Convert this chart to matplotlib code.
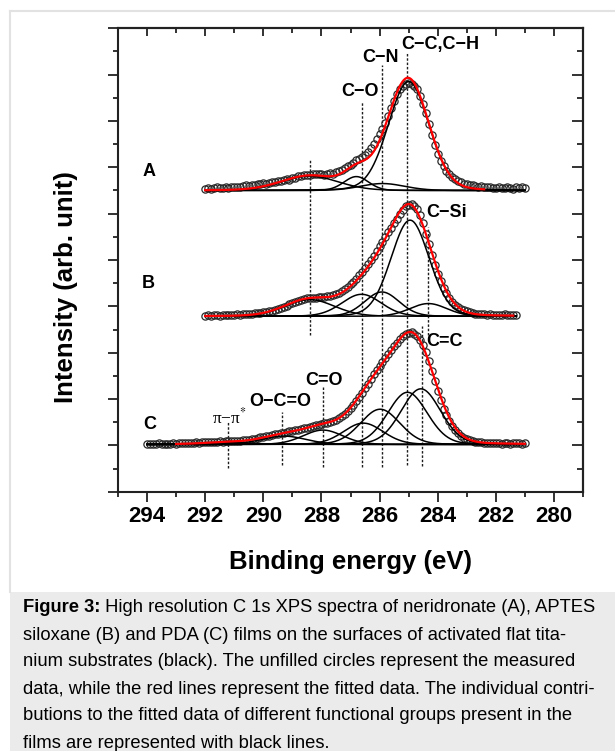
import numpy as np
import matplotlib
matplotlib.use('Agg')
import matplotlib.pyplot as plt
from matplotlib.patches import Rectangle
from matplotlib.lines import Line2D

plt.rcParams['font.family'] = ['Liberation Sans', 'DejaVu Sans']
plt.rcParams['mathtext.fontset'] = 'stix'

# ---------------- data ----------------
# vertical offsets of the three stacked spectra (arb. units)
offset_A, offset_B, offset_C = 13.0, 7.57, 2.04

# measured binding-energy range (eV, start, end) and step of the measurement
A_range = (292.0, 281.0)
B_range = (292.0, 281.3)
C_range = (294.0, 281.0)
step = 0.1
# fitted-envelope range
A_fit_range = (292.0, 282.4)
B_fit_range = (292.0, 281.4)
C_fit_range = (293.0, 281.0)

# measured intensities (open circles), from high to low binding energy
A_meas = [0.08, 0.12, 0.06, 0.10, 0.13, 0.09, 0.12, 0.15, 0.11, 0.14,
          0.13, 0.17, 0.14, 0.19, 0.22, 0.20, 0.24, 0.22, 0.27, 0.29,
          0.31, 0.28, 0.34, 0.38, 0.36, 0.40, 0.43, 0.45, 0.49, 0.47,
          0.52, 0.56, 0.61, 0.64, 0.66, 0.69, 0.67, 0.70, 0.72, 0.70,
          0.71, 0.69, 0.72, 0.74, 0.73, 0.78, 0.84, 0.90, 0.97, 1.05,
          1.12, 1.20, 1.30, 1.36, 1.45, 1.55, 1.68, 1.85, 2.02, 2.22,
          2.42, 2.65, 2.92, 3.22, 3.55, 3.88, 4.15, 4.38, 4.52, 4.60,
          4.62, 4.60, 4.52, 4.36, 4.08, 3.74, 3.34, 2.86, 2.38, 1.95,
          1.58, 1.28, 1.05, 0.84, 0.70, 0.58, 0.48, 0.42, 0.36, 0.30,
          0.27, 0.24, 0.22, 0.20, 0.16, 0.18, 0.15, 0.13, 0.16, 0.12,
          0.10, 0.14, 0.11, 0.09, 0.13, 0.12, 0.08, 0.14, 0.10, 0.13,
          0.12]
B_meas = [0.03, 0.05, 0.02, 0.06, 0.04, 0.03, 0.06, 0.05, 0.07, 0.05,
          0.06, 0.08, 0.07, 0.09, 0.10, 0.09, 0.12, 0.13, 0.15, 0.16,
          0.18, 0.20, 0.22, 0.25, 0.28, 0.32, 0.36, 0.41, 0.46, 0.51,
          0.56, 0.61, 0.66, 0.70, 0.74, 0.77, 0.79, 0.80, 0.81, 0.82,
          0.83, 0.84, 0.86, 0.88, 0.91, 0.95, 1.01, 1.08, 1.17, 1.27,
          1.38, 1.50, 1.63, 1.77, 1.92, 2.08, 2.25, 2.43, 2.62, 2.82,
          3.02, 3.22, 3.42, 3.62, 3.82, 4.02, 4.22, 4.42, 4.60, 4.74,
          4.82, 4.84, 4.78, 4.62, 4.36, 4.02, 3.55, 3.10, 2.64, 2.22,
          1.84, 1.52, 1.24, 1.00, 0.80, 0.63, 0.50, 0.40, 0.32, 0.26,
          0.21, 0.17, 0.14, 0.12, 0.10, 0.09, 0.08, 0.07, 0.08, 0.06,
          0.07, 0.05, 0.06, 0.08, 0.05, 0.06, 0.07, 0.05]
C_meas = [0.03, 0.01, 0.04, 0.02, 0.05, 0.03, 0.02, 0.04, 0.03, 0.05,
          0.04, 0.06, 0.05, 0.07, 0.06, 0.08, 0.07, 0.09, 0.08, 0.10,
          0.09, 0.11, 0.10, 0.12, 0.11, 0.13, 0.12, 0.14, 0.13, 0.15,
          0.14, 0.16, 0.15, 0.17, 0.19, 0.21, 0.23, 0.25, 0.28, 0.30,
          0.32, 0.35, 0.38, 0.41, 0.43, 0.46, 0.48, 0.51, 0.53, 0.56,
          0.58, 0.61, 0.63, 0.66, 0.69, 0.72, 0.75, 0.78, 0.82, 0.85,
          0.88, 0.91, 0.94, 0.98, 1.02, 1.07, 1.13, 1.21, 1.31, 1.43,
          1.56, 1.71, 1.88, 2.06, 2.24, 2.43, 2.62, 2.82, 3.02, 3.22,
          3.40, 3.57, 3.74, 3.91, 4.07, 4.23, 4.39, 4.54, 4.66, 4.76,
          4.82, 4.84, 4.78, 4.66, 4.50, 4.28, 3.98, 3.60, 3.18, 2.74,
          2.30, 1.90, 1.55, 1.25, 1.00, 0.79, 0.62, 0.48, 0.37, 0.29,
          0.23, 0.18, 0.15, 0.12, 0.10, 0.09, 0.08, 0.07, 0.06, 0.06,
          0.05, 0.06, 0.04, 0.05, 0.06, 0.04, 0.05, 0.06, 0.05, 0.04,
          0.05]

# fitted components: centre (eV), height, FWHM (eV)
A_center = [285.00, 285.90, 286.80, 288.40]
A_height = [4.70, 0.30, 0.60, 0.62]
A_fwhm = [1.65, 1.80, 1.00, 2.30]

B_center = [284.95, 285.92, 286.62, 288.40, 284.32]
B_height = [4.15, 1.05, 0.95, 0.72, 0.55]
B_fwhm = [1.55, 1.40, 1.60, 2.00, 1.50]

C_center = [284.58, 285.04, 285.98, 286.56, 287.95, 289.30, 291.20]
C_height = [2.40, 2.25, 1.52, 0.92, 0.62, 0.36, 0.08]
C_fwhm = [1.60, 1.60, 1.60, 1.60, 1.60, 1.80, 2.00]

# peak-position markers (dashed lines): energy, top, bottom (axis units)
dash_x = [288.41, 286.61, 285.92, 285.04, 284.32, 284.55, 291.22, 289.36, 287.95]
dash_top = [14.32, 16.83, 18.42, 18.92, 11.44, 7.16, 3.02, 3.45, 4.53]
dash_bot = [6.76, 1.07, 1.07, 1.15, 6.76, 1.11, 1.04, 1.15, 1.07]

labels = ['C−O', 'C−N', 'C−C,C−H', 'C−Si', 'C=C', 'C=O', 'O−C=O']
lab_x = [286.67, 285.98, 283.90, 283.69, 283.78, 287.91, 289.42]
lab_y = [17.29, 18.76, 19.30, 12.03, 6.50, 4.78, 3.91]

x_major = [280, 282, 284, 286, 288, 290, 292, 294]


def pv(x, c, h, f, eta=0.1):
    d2 = (x - c) ** 2
    return h * ((1 - eta) * np.exp(-4 * np.log(2) * d2 / f ** 2) + eta / (1 + 4 * d2 / f ** 2))


W, H = 615, 751
fig = plt.figure(figsize=(W / 100, H / 100), dpi=100)
fig.patches.append(Rectangle((10 / W, 0), 1, 1 - 592 / H, transform=fig.transFigure,
                             fc='#ebebeb', ec='none', zorder=0))
fig.lines.append(Line2D([10 / W, 1], [1 - 11 / H, 1 - 11 / H], transform=fig.transFigure, color='#e2e2e2', lw=1.5))
fig.lines.append(Line2D([10 / W, 10 / W], [1 - 11 / H, 1 - 592 / H], transform=fig.transFigure, color='#e2e2e2', lw=1.5))

ax = fig.add_axes([118 / W, 1 - 491.7 / H, (583 - 118) / W, (491.7 - 28.3) / H])
ax.set_xlim(295, 279)
ax.set_ylim(0, 20)


def spectrum(base, meas, rng, frng, cen, hei, fw):
    n = len(meas)
    xm = np.round(rng[0] - step * np.arange(n), 2)
    ax.plot(xm, base + np.array(meas), 'o', ms=5.2, mfc='none', mec='#2a2a2a', mew=0.9, zorder=2)
    xc = np.linspace(rng[0], rng[1], 600)
    for c, h, f in zip(cen, hei, fw):
        ax.plot(xc, base + pv(xc, c, h, f), color='black', lw=1.1, zorder=3)
    xf = np.linspace(frng[0], frng[1], 600)
    tot = sum(pv(xf, c, h, f) for c, h, f in zip(cen, hei, fw))
    ax.plot(xf, base + tot, color='#ff0000', lw=1.6, zorder=4)


spectrum(offset_A, A_meas, A_range, A_fit_range, A_center, A_height, A_fwhm)
spectrum(offset_B, B_meas, B_range, B_fit_range, B_center, B_height, B_fwhm)
spectrum(offset_C, C_meas, C_range, C_fit_range, C_center, C_height, C_fwhm)

for x, t, b in zip(dash_x, dash_top, dash_bot):
    ax.plot([x, x], [b, t], color='#1e1e1e', lw=1.0, ls=(0, (1.8, 1.3)), zorder=1)

for t, x, y in zip(labels, lab_x, lab_y):
    ax.text(x, y, t, ha='center', va='center', fontsize=13, fontweight='bold')
ax.text(291.17, 3.22, 'π−π$^{*}$', ha='center', va='center', fontsize=12.5,
        family=['Liberation Serif', 'DejaVu Serif'])
for t, x, y in zip(['A', 'B', 'C'], [293.92, 293.96, 293.92], [13.80, 9.0, 2.92]):
    ax.text(x, y, t, ha='center', va='center', fontsize=13, fontweight='bold')

ax.set_xticks(x_major)
ax.set_xticklabels([str(v) for v in x_major])
ax.set_xticks(np.arange(279, 296, 2), minor=True)
ax.set_yticks(np.arange(0, 21, 2))
ax.set_yticks(np.arange(1, 21, 2), minor=True)
ax.set_yticklabels([])
ax.tick_params(which='both', direction='out', width=1.3, color='#222222', top=False, right=False)
ax.tick_params(which='major', length=7)
ax.tick_params(which='minor', length=3.6)
ax.tick_params(axis='x', labelsize=16, pad=3)
for lab in ax.get_xticklabels():
    lab.set_fontweight('bold')
for s in ax.spines.values():
    s.set_linewidth(1.5)
    s.set_color('#222222')

secx = ax.secondary_xaxis('top')
secx.set_xticks(x_major)
secx.set_xticks(np.arange(279, 296, 2), minor=True)
secx.tick_params(which='both', direction='in', width=1.3, color='#222222', labeltop=False)
secx.tick_params(which='major', length=6)
secx.tick_params(which='minor', length=3.3)
secx.spines['top'].set_linewidth(1.5)
secy = ax.secondary_yaxis('right')
secy.set_yticks(np.arange(0, 21, 2))
secy.set_yticks(np.arange(1, 21, 2), minor=True)
secy.tick_params(which='both', direction='in', width=1.3, color='#222222', labelright=False)
secy.tick_params(which='major', length=8)
secy.tick_params(which='minor', length=4.3)
secy.spines['right'].set_linewidth(1.5)

fig.text(66 / W, 1 - 287 / H, 'Intensity (arb. unit)', rotation=90, ha='center', va='center',
         fontsize=18.5, fontweight='bold')
fig.text(351 / W, 1 - 562 / H, 'Binding energy (eV)', ha='center', va='center',
         fontsize=18.5, fontweight='bold')

cap_lines = [
    ('Figure 3:', ' High resolution C 1s XPS spectra of neridronate (A), APTES'),
    ('', 'siloxane (B) and PDA (C) films on the surfaces of activated flat tita-'),
    ('', 'nium substrates (black). The unfilled circles represent the measured'),
    ('', 'data, while the red lines represent the fitted data. The individual contri-'),
    ('', 'butions to the fitted data of different functional groups present in the'),
    ('', 'films are represented with black lines.'),
]
cap_y = [608, 635, 662, 689, 716, 743]
for (b, r), y in zip(cap_lines, cap_y):
    if b:
        t = fig.text(23 / W, 1 - y / H, b, fontsize=13.2, fontweight='bold', va='center', ha='left')
        fig.canvas.draw()
        bb = t.get_window_extent()
        fig.text(bb.x1 / W, 1 - y / H, r, fontsize=13.2, va='center', ha='left')
    else:
        fig.text(23 / W, 1 - y / H, r, fontsize=13.2, va='center', ha='left')

fig.savefig('out.png', dpi=100)
